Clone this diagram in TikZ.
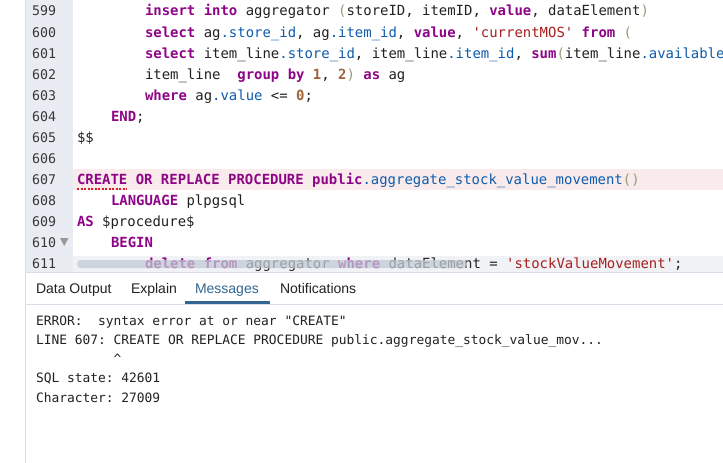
\documentclass[tikz,border=0pt]{standalone}
\usepackage{fontspec}
\setmainfont{Liberation Sans}
\setmonofont{DejaVu Sans Mono}
\newfontfamily\codefont{DejaVu Sans Mono}[Scale=1]
\definecolor{kw}{HTML}{8E0587}
\definecolor{prop}{HTML}{0F5CAD}
\definecolor{str}{HTML}{A81F1F}
\definecolor{num}{HTML}{A0623A}
\definecolor{brk}{HTML}{9A9A7A}
\definecolor{ink}{HTML}{222222}
\definecolor{gutter}{HTML}{E9ECF2}
\definecolor{rulec}{HTML}{DADEE8}
\definecolor{tabblue}{HTML}{326690}
\definecolor{errbg}{HTML}{F9EBEB}
\definecolor{curbg}{HTML}{F1F2F5}
\definecolor{foldc}{HTML}{999999}
\definecolor{squig}{HTML}{D81E1E}
\definecolor{scrollc}{HTML}{C3CAD5}
\newcommand{\K}[1]{\textcolor{kw}{\bfseries #1}}
\newcommand{\Pp}[1]{\textcolor{prop}{#1}}
\newcommand{\St}[1]{\textcolor{str}{#1}}
\newcommand{\Nm}[1]{\textcolor{num}{\bfseries #1}}
\newcommand{\Bk}[1]{\textcolor{brk}{#1}}
\tikzset{
  codeline/.style={anchor=base west,inner sep=0pt,outer sep=0pt,text=ink,font=\codefont\fontsize{13.95}{16}\selectfont\frenchspacing},
  linenum/.style={anchor=base west,inner sep=0pt,outer sep=0pt,text=ink!90,font=\codefont\fontsize{13.3}{16}\selectfont},
  msgline/.style={anchor=base west,inner sep=0pt,outer sep=0pt,text=ink,font=\codefont\fontsize{12.9}{15}\selectfont\frenchspacing},
  tablabel/.style={anchor=base west,inner sep=0pt,outer sep=0pt,text=ink,font=\fontsize{14}{16}\selectfont},
}
\begin{document}
\begin{tikzpicture}[x=1pt,y=-1pt]
\useasboundingbox (0,0) rectangle (723,463);
\fill[white] (0,0) rectangle (723,463);
\begin{scope}
\clip (0,0) rectangle (723,463);
% backgrounds
\fill[gutter] (26,0) rectangle (73,272);
\fill[rulec] (25,0) rectangle (26,463);
\fill[errbg] (73,169) rectangle (723,190);
\fill[curbg] (73,256) rectangle (723,272);
% gutter numbers
\node[linenum] (n599) at (32,16) {599};
\node[linenum] (n600) at (32,37) {600};
\node[linenum] (n601) at (32,58) {601};
\node[linenum] (n602) at (32,79) {602};
\node[linenum] (n603) at (32,100) {603};
\node[linenum] (n604) at (32,121) {604};
\node[linenum] (n605) at (32,142) {605};
\node[linenum] (n606) at (32,163) {606};
\node[linenum] (n607) at (32,184) {607};
\node[linenum] (n608) at (32,205) {608};
\node[linenum] (n609) at (32,226) {609};
\node[linenum] (n610) at (32,247) {610};
\node[linenum] (n611) at (32,268) {611};
\fill[foldc] (60,238) -- (68.5,238) -- (64.2,246) -- cycle;
% code
\node[codeline] (c599) at (145,16) {\K{insert} \K{into} aggregator \Bk{(}storeID, itemID, \K{value}, dataElement\Bk{)}};
\node[codeline] (c600) at (145,37) {\K{select} ag\Pp{.store\_id}, ag\Pp{.item\_id}, \K{value}, \St{'currentMOS'} \K{from} \Bk{(}};
\node[codeline] (c601) at (145,58) {\K{select} item\_line\Pp{.store\_id}, item\_line\Pp{.item\_id}, \K{sum}\Bk{(}item\_line\Pp{.available}};
\node[codeline] (c602) at (145,79) {item\_line\ \ \K{group} \K{by} \Nm{1}, \Nm{2}\Bk{)} \K{as} ag};
\node[codeline] (c603) at (145,100) {\K{where} ag\Pp{.value} <= \Nm{0};};
\node[codeline] (c604) at (111,121) {\K{END};};
\node[codeline] (c605) at (77,142) {\$\$};
\node[codeline] (c607) at (77,184) {\K{CREATE} \K{OR} \K{REPLACE} \K{PROCEDURE} \K{public}\Pp{.aggregate\_stock\_value\_movement}\Bk{()}};
\node[codeline] (c608) at (111,205) {\K{LANGUAGE} plpgsql};
\node[codeline] (c609) at (77,226) {\K{AS} \$procedure\$};
\node[codeline] (c610) at (111,247) {\K{BEGIN}};
\node[codeline] (c611) at (145,268) {\K{delete} \K{from} aggregator \K{where} dataElement = \St{'stockValueMovement'};};
% error squiggle
\draw[squig,line width=1.8pt,dash pattern=on 2pt off 1.5pt] (77,188.8) -- (127,188.8);
% scrollbar
\fill[scrollc,opacity=.75,rounded corners=3.5pt] (77,260) rectangle (467,268);
% results panel
\fill[white] (26,272.5) rectangle (723,463);
\fill[rulec] (26,272) rectangle (723,273);
\fill[rulec] (26,304) rectangle (723,305);
\fill[tabblue] (185,301) rectangle (270,304);
\node[tablabel] (t1) at (36,293) {Data Output};
\node[tablabel] (t2) at (131,293) {Explain};
\node[tablabel,text=tabblue] (t3) at (195,293) {Messages};
\node[tablabel] (t4) at (280,293) {Notifications};
% messages
\node[msgline] (m1) at (36,325) {ERROR:\ \ syntax error at or near "CREATE"};
\node[msgline] (m2) at (36,344) {LINE 607: CREATE OR REPLACE PROCEDURE public.aggregate\_stock\_value\_mov...};
\node[msgline] (m3) at (36,363) {\hphantom{LINE 607: }\textasciicircum};
\node[msgline] (m4) at (36,382) {SQL state: 42601};
\node[msgline] (m5) at (36,402) {Character: 27009};
\end{scope}
\end{tikzpicture}
\end{document}
